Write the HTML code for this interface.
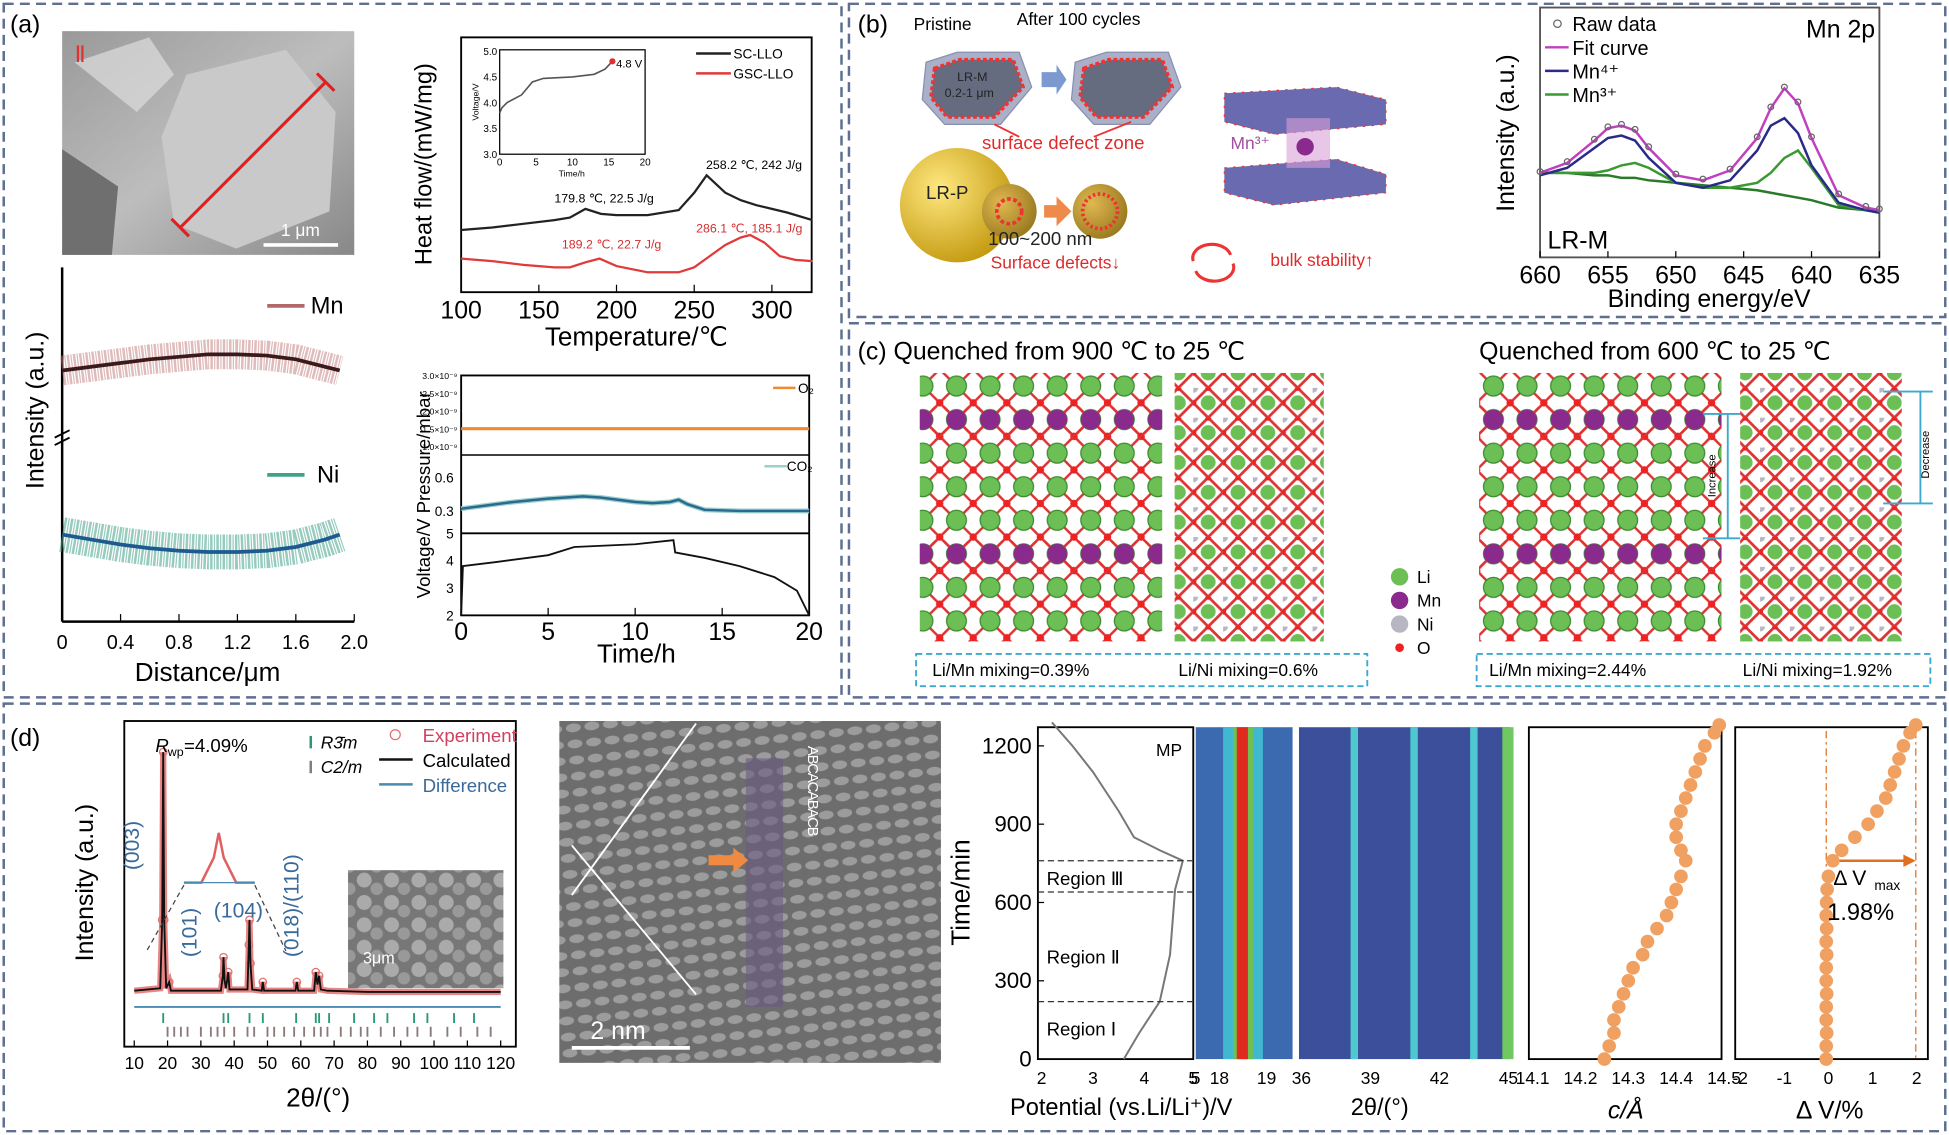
<!DOCTYPE html>
<html><head><meta charset="utf-8">
<style>
html,body{margin:0;padding:0;background:#fff;}
svg{display:block;font-family:"Liberation Sans",Arial,sans-serif;}
</style></head>
<body>
<svg id="fig" width="1949" height="1135" viewBox="0 0 1568 913" xmlns="http://www.w3.org/2000/svg">
<defs>
<pattern id="layered" width="27" height="27" patternUnits="userSpaceOnUse">
 <path d="M0 0 L27 27 M27 0 L0 27" stroke="#d33" stroke-width="2"/>
 <circle cx="13.5" cy="13.5" r="8" fill="#6bbf55" stroke="#3c8a30" stroke-width="1"/>
 <circle cx="0" cy="0" r="3" fill="#e22"/><circle cx="27" cy="0" r="3" fill="#e22"/>
 <circle cx="0" cy="27" r="3" fill="#e22"/><circle cx="27" cy="27" r="3" fill="#e22"/>
</pattern>
<pattern id="layeredMn" width="27" height="27" patternUnits="userSpaceOnUse">
 <path d="M0 0 L27 27 M27 0 L0 27" stroke="#d33" stroke-width="2"/>
 <circle cx="13.5" cy="13.5" r="8" fill="#8a2a8c"/>
 <circle cx="0" cy="0" r="3" fill="#e22"/><circle cx="27" cy="27" r="3" fill="#e22"/>
</pattern>
<pattern id="diamond" width="24" height="24" patternUnits="userSpaceOnUse">
 <path d="M0 12 L12 0 L24 12 L12 24 Z" stroke="#d33" stroke-width="2.2" fill="none"/>
 <circle cx="12" cy="12" r="6" fill="#6bbf55"/>
 <circle cx="0" cy="0" r="4" fill="#b9b6c4"/>
 <circle cx="12" cy="0" r="2.5" fill="#e22"/><circle cx="0" cy="12" r="2.5" fill="#e22"/>
</pattern>
<radialGradient id="ball" cx="0.35" cy="0.35" r="0.7"><stop offset="0" stop-color="#ffe880"/><stop offset="1" stop-color="#c49a10"/></radialGradient>
<radialGradient id="ball2" cx="0.35" cy="0.35" r="0.7"><stop offset="0" stop-color="#e0b850"/><stop offset="1" stop-color="#9a7a20"/></radialGradient>
<linearGradient id="sem" x1="0" y1="0" x2="1" y2="1"><stop offset="0" stop-color="#9a9a9a"/><stop offset="0.5" stop-color="#bdbdbd"/><stop offset="1" stop-color="#888"/></linearGradient>
<pattern id="tem" width="15" height="13" patternUnits="userSpaceOnUse" patternTransform="rotate(-6)">
 <rect width="15" height="13" fill="#6a6a6a"/><ellipse cx="7.5" cy="6.5" rx="6" ry="3.5" fill="#a8a8a8"/>
</pattern>
<pattern id="semgrain" width="22" height="18" patternUnits="userSpaceOnUse">
 <rect width="22" height="18" fill="#777"/><circle cx="7" cy="6" r="6" fill="#aaa"/><circle cx="17" cy="13" r="5" fill="#999"/>
</pattern>
</defs>

<g fill="none" stroke="#5e6f92" stroke-width="2" stroke-dasharray="8,5">
 <rect x="3" y="3" width="674" height="558"/>
 <rect x="683" y="3" width="882" height="252"/>
 <rect x="683" y="260" width="882" height="301"/>
 <rect x="3" y="566" width="1562" height="344"/>
</g>

<!-- ===== Panel a ===== -->
<text x="8" y="26" font-size="20">(a)</text>
<g>
 <rect x="50" y="25" width="235" height="180" fill="url(#sem)"/>
 <path d="M60 50 L120 30 L140 60 L110 90 Z" fill="#ddd" opacity="0.7"/>
 <path d="M150 60 L230 40 L270 90 L265 170 L190 200 L140 180 L130 110 Z" fill="#c9c9c9"/>
 <path d="M50 120 L95 150 L90 205 L50 205 Z" fill="#6f6f6f"/>
 <text x="60" y="50" fill="#e03030" font-size="18" font-family="Liberation Serif">Ⅱ</text>
 <line x1="145" y1="183" x2="262" y2="66" stroke="#e02020" stroke-width="2.5"/>
 <line x1="138" y1="176" x2="152" y2="190" stroke="#e02020" stroke-width="2.5"/>
 <line x1="255" y1="59" x2="269" y2="73" stroke="#e02020" stroke-width="2.5"/>
 <line x1="212" y1="197" x2="272" y2="197" stroke="#fff" stroke-width="3"/>
 <text x="226" y="190" fill="#fff" font-size="14">1 μm</text>
</g>
<g id="lineScan"></g>
<g id="heat"></g>
<g id="gas"></g>

<!-- ===== Panel b ===== -->
<text x="690" y="26" font-size="20">(b)</text>
<g>
 <text x="735" y="24" font-size="14">Pristine</text>
 <text x="818" y="20" font-size="14">After 100 cycles</text>
 <path d="M745 50 L770 42 L820 42 L830 70 L805 100 L760 100 L742 80 Z" fill="#a9b0c8" stroke="#8890b0"/>
 <path d="M752 55 L772 48 L815 48 L823 70 L800 94 L762 94 L749 78 Z" fill="#666c80" stroke="#e33" stroke-width="3" stroke-dasharray="3,2"/>
 <text x="770" y="65" font-size="10" fill="#222">LR-M</text>
 <text x="760" y="78" font-size="10" fill="#222">0.2-1 μm</text>
 <path d="M838 58 L850 58 L850 52 L858 64 L850 76 L850 70 L838 70 Z" fill="#7c9ad0"/>
 <path d="M865 50 L890 42 L940 42 L950 70 L925 100 L880 100 L862 80 Z" fill="#a9b0c8" stroke="#8890b0"/>
 <path d="M872 55 L892 48 L935 48 L943 70 L920 94 L882 94 L869 78 Z" fill="#666c80" stroke="#e33" stroke-width="3" stroke-dasharray="3,2"/>
 <text x="790" y="120" font-size="15" fill="#e02a2a">surface defect zone</text>
 <line x1="800" y1="100" x2="820" y2="110" stroke="#e33" stroke-width="1.5"/>
 <line x1="910" y1="98" x2="880" y2="110" stroke="#e33" stroke-width="1.5"/>
 <circle cx="770" cy="165" r="46" fill="url(#ball)"/>
 <text x="745" y="160" font-size="15" fill="#222">LR-P</text>
 <circle cx="812" cy="170" r="22" fill="url(#ball2)"/>
 <circle cx="812" cy="170" r="10" fill="none" stroke="#e33" stroke-width="3" stroke-dasharray="3,2"/>
 <path d="M840 165 L850 165 L850 158 L862 170 L850 182 L850 175 L840 175 Z" fill="#ef8a4a"/>
 <circle cx="885" cy="170" r="22" fill="url(#ball2)"/>
 <circle cx="885" cy="170" r="14" fill="none" stroke="#e33" stroke-width="3" stroke-dasharray="2,2"/>
 <text x="795" y="197" font-size="15" fill="#222">100~200 nm</text>
 <text x="797" y="216" font-size="14" fill="#e02a2a">Surface defects↓</text>
 <text x="1022" y="214" font-size="14" fill="#e02a2a">bulk stability↑</text>
 <path d="M960 210 A14 10 0 0 1 990 205" fill="none" stroke="#e33" stroke-width="2.5"/>
 <path d="M992 212 A14 10 0 0 1 962 218" fill="none" stroke="#e33" stroke-width="2.5"/>
 <path d="M985 75 L1075 70 L1115 80 L1115 100 L1025 108 L985 98 Z" fill="#6a6ab0" stroke="#e33" stroke-width="1" stroke-dasharray="2,5"/>
 <path d="M985 135 L1075 128 L1115 140 L1115 155 L1025 165 L985 155 Z" fill="#6a6ab0" stroke="#e33" stroke-width="1" stroke-dasharray="2,5"/>
 <rect x="1035" y="95" width="35" height="40" fill="#d8a0d8" opacity="0.6"/>
 <circle cx="1050" cy="118" r="7" fill="#8a2a8c"/>
 <text x="990" y="120" font-size="14" fill="#a050a0">Mn³⁺</text>
</g>
<g id="xps"></g>

<!-- ===== Panel c ===== -->
<text x="690" y="289" font-size="20">(c) Quenched from 900 ℃ to 25 ℃</text>
<text x="1190" y="289" font-size="20">Quenched from 600 ℃ to 25 ℃</text>
<g>
 <rect x="740" y="300" width="195" height="216" fill="url(#layered)"/>
 <rect x="740" y="327" width="195" height="27" fill="url(#layeredMn)"/>
 <rect x="740" y="435" width="195" height="27" fill="url(#layeredMn)"/>
 <rect x="945" y="300" width="120" height="216" fill="url(#diamond)"/>
 <rect x="1190" y="300" width="195" height="216" fill="url(#layered)"/>
 <rect x="1190" y="327" width="195" height="27" fill="url(#layeredMn)"/>
 <rect x="1190" y="435" width="195" height="27" fill="url(#layeredMn)"/>
 <rect x="1400" y="300" width="130" height="216" fill="url(#diamond)"/>
 <g stroke="#3aaad0" stroke-width="1.5">
  <line x1="1370" y1="333" x2="1400" y2="333"/><line x1="1370" y1="433" x2="1400" y2="433"/><line x1="1390" y1="333" x2="1390" y2="433"/>
  <line x1="1515" y1="315" x2="1555" y2="315"/><line x1="1515" y1="405" x2="1555" y2="405"/><line x1="1545" y1="315" x2="1545" y2="405"/>
 </g>
 <text x="1380" y="400" font-size="9" transform="rotate(-90 1380 400)">Increase</text>
 <text x="1552" y="385" font-size="9" transform="rotate(-90 1552 385)">Decrease</text>
</g>
<g font-size="14">
 <circle cx="1126" cy="464" r="7" fill="#6bbf55"/><text x="1140" y="469">Li</text>
 <circle cx="1126" cy="483" r="7" fill="#8a2a8c"/><text x="1140" y="488">Mn</text>
 <circle cx="1126" cy="502" r="7" fill="#b9b6c4"/><text x="1140" y="507">Ni</text>
 <circle cx="1126" cy="521" r="3.5" fill="#e22"/><text x="1140" y="526">O</text>
</g>
<g font-size="14">
 <rect x="737" y="526" width="363" height="26" fill="none" stroke="#3aaad0" stroke-width="1.5" stroke-dasharray="5,3"/>
 <text x="750" y="544">Li/Mn mixing=0.39%</text><text x="948" y="544">Li/Ni mixing=0.6%</text>
 <rect x="1188" y="526" width="365" height="26" fill="none" stroke="#3aaad0" stroke-width="1.5" stroke-dasharray="5,3"/>
 <text x="1198" y="544">Li/Mn mixing=2.44%</text><text x="1402" y="544">Li/Ni mixing=1.92%</text>
</g>

<!-- ===== Panel d ===== -->
<text x="8" y="600" font-size="20">(d)</text>
<g id="xrd"></g>
<g>
 <rect x="450" y="580" width="307" height="275" fill="url(#tem)"/>
 <rect x="450" y="580" width="307" height="275" fill="#777" opacity="0.25"/>
 <line x1="560" y1="582" x2="460" y2="720" stroke="#fff" stroke-width="1.5"/>
 <line x1="460" y1="680" x2="560" y2="800" stroke="#fff" stroke-width="1.5"/>
 <rect x="600" y="610" width="30" height="200" fill="#6a5a80" opacity="0.6"/>
 <path d="M570 688 L590 688 L590 682 L602 692 L590 702 L590 696 L570 696 Z" fill="#f08a40"/>
 <text x="650" y="600" font-size="12" fill="#fff" letter-spacing="-1" transform="rotate(90 650 600)">ABCACABACB</text>
 <line x1="460" y1="843" x2="555" y2="843" stroke="#fff" stroke-width="3"/>
 <text x="475" y="836" font-size="20" fill="#fff">2 nm</text>
</g>
<g id="insitu"></g>
</svg>

<script>
const NS='http://www.w3.org/2000/svg';
function el(tag,attrs,parent){const e=document.createElementNS(NS,tag);for(const k in attrs)e.setAttribute(k,attrs[k]);parent.appendChild(e);return e;}
function txt(s,attrs,parent){const e=el('text',attrs,parent);e.textContent=s;return e;}
function pathD(xs,ys,fx,fy){return xs.map((x,i)=>(i?'L':'M')+fx(x).toFixed(1)+' '+fy(ys[i]).toFixed(1)).join(' ');}

/* ---------- Data ---------- */
const scanDist=[0,0.2,0.4,0.6,0.8,1.0,1.2,1.4,1.6,1.8,1.9];
const scanMn=[202,205,208,211,213,215,215,214,211,205,202];
const scanNi=[70,66,62,59,57,56,56,57,60,66,70];
const scanTicks=['0','0.4','0.8','1.2','1.6','2.0'];
const heatT=[100,120,140,160,170,180,190,200,220,240,250,258,270,280,290,300,310,326];
const heatSC=[50,52,55,58,60,67,63,62,62,66,80,94,80,74,70,67,64,58];
const gscT=[100,120,140,160,170,180,189,200,220,240,250,260,270,280,286,295,305,315,326];
const heatGSC=[27,25,22,20,20,24,27,21,16,16,20,29,38,44,46,40,29,26,25];
const heatTicks=[100,150,200,250,300];
const insetT=[0,0.3,1,3,4.5,6,10,13,14.5,15.5];
const insetV=[3.8,3.9,4.0,4.15,4.4,4.47,4.5,4.55,4.65,4.8];
const gasT=[0,1,3,5,7,8,10,11,12,12.5,13,14,16,20];
const gasCO2=[0.32,0.34,0.38,0.41,0.43,0.42,0.38,0.37,0.38,0.40,0.36,0.31,0.30,0.30];
const gasO2=[1.5,1.5,1.5,1.5,1.5,1.5,1.5,1.5,1.5,1.5,1.5,1.5,1.5,1.5];
const cellT=[0,0.1,2,5,6.5,10,12.2,12.3,14,16,18,19.3,20];
const cellV=[2.0,3.8,3.95,4.2,4.5,4.6,4.75,4.3,4.1,3.8,3.4,2.9,2.0];
const gasTicks=[0,5,10,15,20];
const xpsBE=[660,658,656,655,654,653,652,650,648,646,644,643,642,641,640,638,636,635];
const xpsFit=[34,38,47,52,53,51,44,33,31,35,48,60,68,62,48,25,20,19];
const xpsMn4=[33,36,44,48,49,47,40,30,28,31,43,53,56,50,37,22,19,18];
const xpsMn3=[34,34,34,35,37,38,36,30,28,28,30,34,40,43,36,21,19,18];
const xpsBg=[34,34,33,33,32,32,31,30,29,28,27,26,25,24,23,20,19,18];
const xpsTicks=[660,655,650,645,640,635];
const xrdTT=[10,17.8,18.4,18.7,19.0,19.6,20.5,21,36,36.6,36.8,37.1,37.5,37.9,38.2,38.6,44,44.4,44.6,44.9,45.4,48.3,48.6,49,58.4,58.8,59.2,64,64.5,65.0,65.5,66,68,80,120];
const xrdI=[3,5,60,195,60,5,10,3,3,15,30,12,5,12,18,4,4,40,60,25,4,3,10,3,3,10,3,3,18,8,15,4,3,2,2];
const xrdTicks=[10,20,30,40,50,60,70,80,90,100,110,120];
const braggR=[18.7,36.8,38.2,44.6,48.6,58.6,64.5,65.5,68.5,76,82,86,94,98,106,112];
const braggC=[20,22,24,26,30,33,35,37,40,44,46,50,52,55,58,61,64,66,68,72,75,78,80,84,88,92,95,99,104,108,113,117];
const potTime=[0,100,220,400,650,760,800,850,950,1100,1200,1290];
const potV=[3.6,3.9,4.3,4.5,4.6,4.75,4.3,3.8,3.5,3.0,2.6,2.2];
const timeTicks=[0,300,600,900,1200];
const cTime=[0,50,100,150,200,250,300,350,400,450,500,550,600,650,700,760,800,850,900,950,1000,1050,1100,1150,1200,1250,1280];
const cVal=[14.25,14.26,14.27,14.27,14.28,14.29,14.30,14.31,14.33,14.34,14.36,14.38,14.39,14.40,14.41,14.42,14.41,14.40,14.40,14.41,14.42,14.43,14.44,14.45,14.46,14.48,14.49];
const dV=[-0.05,-0.05,-0.04,-0.05,-0.05,-0.04,-0.05,-0.05,-0.04,-0.05,-0.04,-0.05,-0.04,-0.03,0.0,0.1,0.3,0.6,0.9,1.1,1.3,1.4,1.5,1.6,1.7,1.85,1.98];
const stripes1=[18.5];
const stripes2=[38.3,40.9,43.5,44.9];

/* ---------- Line scan ---------- */
(function(){
 const g=document.getElementById('lineScan');
 const fx=d=>50+d*117.5, fy=v=>500-v;
 el('line',{x1:50,y1:215,x2:50,y2:500,stroke:'#000','stroke-width':2},g);
 el('line',{x1:50,y1:500,x2:285,y2:500,stroke:'#000','stroke-width':2},g);
 scanTicks.forEach((t,i)=>{const x=fx(i*0.4);
  const tk=el('line',{x1:x,y1:500,x2:x,y2:494,stroke:'#000'},g);
  
  
  const l=txt(t,{x:x,y:522,'font-size':16,'text-anchor':'middle'},g);
  
  });
 const mnBand=el('path',{d:pathD(scanDist,scanMn,fx,fy),fill:'none',stroke:'#c07878','stroke-width':24,opacity:0.5,'stroke-dasharray':'2,1,1,1'},g);
 
 
 const mnFit=el('path',{d:pathD(scanDist,scanMn,fx,fy),fill:'none',stroke:'#3a1a1a','stroke-width':3},g);
 
 
 const niBand=el('path',{d:pathD(scanDist,scanNi,fx,fy),fill:'none',stroke:'#40a088','stroke-width':28,opacity:0.55,'stroke-dasharray':'2,1,1,1'},g);
 
 
 const niFit=el('path',{d:pathD(scanDist,scanNi,fx,fy),fill:'none',stroke:'#1e5a90','stroke-width':3},g);
 
 
 el('line',{x1:215,y1:246,x2:245,y2:246,stroke:'#b06868','stroke-width':3},g);
 txt('Mn',{x:250,y:252,'font-size':19},g);
 el('line',{x1:215,y1:382,x2:245,y2:382,stroke:'#40a088','stroke-width':3},g);
 txt('Ni',{x:255,y:388,'font-size':19},g);
 el('path',{d:'M44 352 L56 346 M44 358 L56 352',stroke:'#000','stroke-width':1.5},g);
 txt('Intensity (a.u.)',{x:35,y:330,'font-size':20,'text-anchor':'middle',transform:'rotate(-90 35 330)'},g);
 txt('Distance/μm',{x:167,y:548,'font-size':21,'text-anchor':'middle'},g);
})();

/* ---------- DSC ---------- */
(function(){
 const g=document.getElementById('heat');
 const fx=t=>371+(t-100)*1.25, fy=v=>235-v;
 el('rect',{x:371,y:30,width:282,height:205,fill:'none',stroke:'#000','stroke-width':1.5},g);
 heatTicks.forEach(t=>{const x=fx(t);
  const tk=el('line',{x1:x,y1:235,x2:x,y2:229,stroke:'#000'},g);
  
  
  const l=txt(String(t),{x:x,y:256,'font-size':20,'text-anchor':'middle'},g);
  
  });
 const a=el('path',{d:pathD(heatT,heatSC,fx,fy),fill:'none',stroke:'#222','stroke-width':1.8},g);
 
 
 const b=el('path',{d:pathD(gscT,heatGSC,fx,fy),fill:'none',stroke:'#e03a3a','stroke-width':1.8},g);
 
 
 txt('179.8 ℃, 22.5 J/g',{x:446,y:163,'font-size':10},g);
 txt('258.2 ℃, 242 J/g',{x:568,y:136,'font-size':10},g);
 txt('189.2 ℃, 22.7 J/g',{x:452,y:200,'font-size':10,fill:'#d03030'},g);
 txt('286.1 ℃, 185.1 J/g',{x:560,y:187,'font-size':10,fill:'#d03030'},g);
 el('line',{x1:560,y1:43,x2:588,y2:43,stroke:'#222','stroke-width':2},g);
 txt('SC-LLO',{x:590,y:47,'font-size':11},g);
 el('line',{x1:560,y1:59,x2:588,y2:59,stroke:'#e03a3a','stroke-width':2},g);
 txt('GSC-LLO',{x:590,y:63,'font-size':11},g);
 txt('Heat flow/(mW/mg)',{x:347,y:132,'font-size':19,'text-anchor':'middle',transform:'rotate(-90 347 132)'},g);
 txt('Temperature/℃',{x:512,y:278,'font-size':21,'text-anchor':'middle'},g);
 const ix=t=>402+t*5.85, iy=v=>41+(5-v)*41.5;
 el('rect',{x:402,y:40,width:117,height:84,fill:'#fff',stroke:'#000'},g);
 [0,5,10,15,20].forEach(t=>txt(String(t),{x:ix(t),y:133,'font-size':8,'text-anchor':'middle'},g));
 [3.0,3.5,4.0,4.5,5.0].forEach(v=>txt(v.toFixed(1),{x:400,y:iy(v)+3,'font-size':8,'text-anchor':'end'},g));
 const ic=el('path',{d:pathD(insetT,insetV,ix,iy),fill:'none',stroke:'#555','stroke-width':1.3},g);
 
 
 el('circle',{cx:ix(15.5),cy:iy(4.8),r:2.5,fill:'#e03030'},g);
 txt('4.8 V',{x:ix(15.5)+3,y:iy(4.8)+5,'font-size':9},g);
 txt('Time/h',{x:460,y:142,'font-size':7,'text-anchor':'middle'},g);
 txt('Voltage/V',{x:385,y:82,'font-size':7,'text-anchor':'middle',transform:'rotate(-90 385 82)'},g);
})();

/* ---------- Gas ---------- */
(function(){
 const g=document.getElementById('gas');
 const fx=t=>371+t*14;
 const yO=v=>359-(v-1)*28.5, yC=v=>411-(v-0.3)*90, yV=v=>429+(5-v)*22;
 el('rect',{x:371,y:302,width:280,height:193,fill:'none',stroke:'#000','stroke-width':1.5},g);
 el('line',{x1:371,y1:366,x2:651,y2:366,stroke:'#000','stroke-width':1.2},g);
 el('line',{x1:371,y1:429,x2:651,y2:429,stroke:'#000','stroke-width':1.5},g);
 ['1.0×10⁻⁹','1.5×10⁻⁹','2.0×10⁻⁹','2.5×10⁻⁹','3.0×10⁻⁹'].forEach((s,i)=>txt(s,{x:368,y:yO(1+i*0.5)+3,'font-size':7,'text-anchor':'end'},g));
 [0.3,0.6].forEach(v=>txt(String(v),{x:365,y:yC(v)+4,'font-size':11,'text-anchor':'end'},g));
 [2,3,4,5].forEach(v=>txt(String(v),{x:365,y:yV(v)+4,'font-size':11,'text-anchor':'end'},g));
 gasTicks.forEach(t=>{const x=fx(t);
  const tk=el('line',{x1:x,y1:495,x2:x,y2:489,stroke:'#000'},g);
  
  
  const l=txt(String(t),{x:x,y:515,'font-size':20,'text-anchor':'middle'},g);
  
  });
 const o=el('path',{d:pathD(gasT,gasO2,fx,yO),fill:'none',stroke:'#f08a30','stroke-width':2.5},g);
 
 
 const cb=el('path',{d:pathD(gasT,gasCO2,fx,yC),fill:'none',stroke:'#9cd0cc','stroke-width':4},g);
 
 
 const c=el('path',{d:pathD(gasT,gasCO2,fx,yC),fill:'none',stroke:'#2a6a90','stroke-width':2},g);
 
 
 const v=el('path',{d:pathD(cellT,cellV,fx,yV),fill:'none',stroke:'#111','stroke-width':1.5},g);
 
 
 el('line',{x1:622,y1:312,x2:640,y2:312,stroke:'#f08a30','stroke-width':2},g);
 txt('O₂',{x:642,y:316,'font-size':11},g);
 el('line',{x1:615,y1:375,x2:633,y2:375,stroke:'#9cd0cc','stroke-width':2},g);
 txt('CO₂',{x:633,y:379,'font-size':11},g);
 txt('Voltage/V  Pressure/mbar',{x:346,y:398,'font-size':15,'text-anchor':'middle',transform:'rotate(-90 346 398)'},g);
 txt('Time/h',{x:512,y:533,'font-size':21,'text-anchor':'middle'},g);
})();

/* ---------- XPS ---------- */
(function(){
 const g=document.getElementById('xps');
 const fx=b=>1239+(660-b)*10.92, fy=v=>207-v*2;
 el('rect',{x:1239,y:6,width:273,height:201,fill:'none',stroke:'#555','stroke-width':1.5},g);
 xpsTicks.forEach(t=>{const x=fx(t);
  const tk=el('line',{x1:x,y1:207,x2:x,y2:202,stroke:'#000'},g);
  
  
  const l=txt(String(t),{x:x,y:228,'font-size':20,'text-anchor':'middle'},g);
  
  });
 const bg=el('path',{d:pathD(xpsBE,xpsBg,fx,fy),fill:'none',stroke:'#2a7a2a','stroke-width':2},g);
 
 
 const m3=el('path',{d:pathD(xpsBE,xpsMn3,fx,fy),fill:'none',stroke:'#3a9a30','stroke-width':2},g);
 
 
 const m4=el('path',{d:pathD(xpsBE,xpsMn4,fx,fy),fill:'none',stroke:'#2a2a8a','stroke-width':2},g);
 
 
 const f=el('path',{d:pathD(xpsBE,xpsFit,fx,fy),fill:'none',stroke:'#c040c0','stroke-width':2},g);
 
 
 xpsBE.forEach((b,i)=>{const p=el('circle',{cx:fx(b),cy:fy(xpsFit[i])-1,r:2.3,fill:'none',stroke:'#666'},g);
  
  });
 const L=[['Raw data','#666','o'],['Fit curve','#c040c0'],['Mn⁴⁺','#2a2a8a'],['Mn³⁺','#3a9a30']];
 L.forEach((e,i)=>{const y=19+i*19;
  if(e[2]) el('circle',{cx:1253,cy:y,r:3,fill:'none',stroke:e[1]},g); else el('line',{x1:1243,y1:y,x2:1262,y2:y,stroke:e[1],'stroke-width':2},g);
  txt(e[0],{x:1265,y:y+6,'font-size':16},g);});
 txt('Mn 2p',{x:1453,y:30,'font-size':20},g);
 txt('LR-M',{x:1245,y:200,'font-size':20},g);
 txt('Intensity (a.u.)',{x:1218,y:107,'font-size':20,'text-anchor':'middle',transform:'rotate(-90 1218 107)'},g);
 txt('Binding energy/eV',{x:1375,y:247,'font-size':20,'text-anchor':'middle'},g);
})();

/* ---------- XRD ---------- */
(function(){
 const g=document.getElementById('xrd');
 const fx=t=>108+(t-10)*2.68, fy=v=>800-v;
 el('rect',{x:100,y:580,width:315,height:262,fill:'none',stroke:'#000','stroke-width':1.5},g);
 xrdTicks.forEach(t=>{const x=fx(t);
  const tk=el('line',{x1:x,y1:842,x2:x,y2:837,stroke:'#000'},g);
  
  
  const l=txt(String(t),{x:x,y:860,'font-size':14,'text-anchor':'middle'},g);
  
  });
 const thick=el('path',{d:pathD(xrdTT,xrdI,fx,fy),fill:'none',stroke:'#e05050','stroke-width':5,opacity:0.7},g);
 
 
 xrdTT.forEach((t,i)=>{if(xrdI[i]>8){const p=el('circle',{cx:fx(t),cy:fy(xrdI[i]),r:3,fill:'none',stroke:'#e07070'},g);
  
  }});
 const calc=el('path',{d:pathD(xrdTT,xrdI,fx,fy),fill:'none',stroke:'#111','stroke-width':1.5},g);
 
 
 const diff=el('line',{x1:fx(10),y1:810,x2:fx(120),y2:810,stroke:'#4a8ab0','stroke-width':1.5},g);
 
 
 braggR.forEach(t=>{const a=el('line',{x1:fx(t),y1:815,x2:fx(t),y2:823,stroke:'#2a9a70','stroke-width':1.5},g);
  
  });
 braggC.forEach(t=>{const b=el('line',{x1:fx(t),y1:826,x2:fx(t),y2:834,stroke:'#8a7a7a','stroke-width':1.5},g);
  
  });
 txt('(003)',{x:112,y:700,'font-size':17,fill:'#3a6a9a',transform:'rotate(-90 112 700)'},g);
 txt('(101)',{x:158,y:770,'font-size':17,fill:'#3a6a9a',transform:'rotate(-90 158 770)'},g);
 txt('(104)',{x:172,y:738,'font-size':17,fill:'#3a6a9a'},g);
 txt('(018)/(110)',{x:240,y:770,'font-size':17,fill:'#3a6a9a',transform:'rotate(-90 240 770)'},g);
 el('path',{d:'M148 710 L162 710 L172 690 L176 670 L180 690 L190 710 L205 710',fill:'none',stroke:'#e06060','stroke-width':2},g);
 el('path',{d:'M148 710 L205 710',fill:'none',stroke:'#4a8ab0'},g);
 el('line',{x1:148,y1:712,x2:118,y2:765,stroke:'#444','stroke-dasharray':'4,3'},g);
 el('line',{x1:205,y1:712,x2:230,y2:765,stroke:'#444','stroke-dasharray':'4,3'},g);
 el('rect',{x:280,y:700,width:125,height:95,fill:'url(#semgrain)'},g);
 txt('3μm',{x:292,y:775,'font-size':13,fill:'#fff'},g);
 txt('R',{x:125,y:605,'font-size':15,'font-style':'italic'},g);
 txt('wp',{x:135,y:608,'font-size':10},g);
 txt('=4.09%',{x:148,y:605,'font-size':15},g);
 el('line',{x1:250,y1:592,x2:250,y2:602,stroke:'#2a9a70','stroke-width':2},g);
 txt('R3̄m',{x:258,y:602,'font-size':14,'font-style':'italic'},g);
 el('line',{x1:250,y1:612,x2:250,y2:622,stroke:'#8a7a7a','stroke-width':2},g);
 txt('C2/m',{x:258,y:622,'font-size':14,'font-style':'italic'},g);
 el('circle',{cx:318,cy:591,r:4,fill:'none',stroke:'#e07070'},g);
 txt('Experiment',{x:340,y:597,'font-size':15,fill:'#d04060'},g);
 el('line',{x1:305,y1:611,x2:332,y2:611,stroke:'#111','stroke-width':2},g);
 txt('Calculated',{x:340,y:617,'font-size':15},g);
 el('line',{x1:305,y1:631,x2:332,y2:631,stroke:'#4a8ab0','stroke-width':2},g);
 txt('Difference',{x:340,y:637,'font-size':15,fill:'#3a6a9a'},g);
 txt('Intensity (a.u.)',{x:75,y:710,'font-size':20,'text-anchor':'middle',transform:'rotate(-90 75 710)'},g);
 txt('2θ/(°)',{x:256,y:890,'font-size':21,'text-anchor':'middle'},g);
})();

/* ---------- In situ ---------- */
(function(){
 const g=document.getElementById('insitu');
 const fy=t=>852-t*0.21;
 const fp=v=>838+(v-2)*41.3;
 el('rect',{x:835,y:585,width:125,height:267,fill:'none',stroke:'#000','stroke-width':1.5},g);
 timeTicks.forEach(t=>{
  const tk=el('line',{x1:835,y1:fy(t),x2:840,y2:fy(t),stroke:'#000'},g);
  
  
  const l=txt(String(t),{x:830,y:fy(t)+6,'font-size':18,'text-anchor':'end'},g);
  
  });
 [2,3,4,5].forEach(v=>txt(String(v),{x:fp(v),y:872,'font-size':14,'text-anchor':'middle'},g));
 const pc=el('path',{d:pathD(potV,potTime,fp,fy),fill:'none',stroke:'#777','stroke-width':1.6},g);
 
 
 [760,640,220].forEach(t=>el('line',{x1:835,y1:fy(t),x2:960,y2:fy(t),stroke:'#333','stroke-dasharray':'5,3'},g));
 txt('MP',{x:930,y:608,'font-size':14},g);
 txt('Region Ⅲ',{x:842,y:712,'font-size':15},g);
 txt('Region Ⅱ',{x:842,y:775,'font-size':15},g);
 txt('Region Ⅰ',{x:842,y:833,'font-size':15},g);
 txt('Time/min',{x:780,y:718,'font-size':21,'text-anchor':'middle',transform:'rotate(-90 780 718)'},g);
 txt('Potential (vs.Li/Li⁺)/V',{x:902,y:897,'font-size':19,'text-anchor':'middle'},g);
 const h1x=t=>962+(t-17.5)*38, h2x=t=>1047+(t-36)*18.5;
 el('rect',{x:962,y:585,width:78,height:267,fill:'#3c6ab0'},g);
 el('rect',{x:1045,y:585,width:170,height:267,fill:'#3b4f9a'},g);
 stripes1.forEach(t=>{
  const s=el('rect',{x:h1x(t)-16,y:585,width:32,height:267,fill:'#40b8d0'},g);
  
  
  const s2=el('rect',{x:h1x(t)-8,y:585,width:16,height:267,fill:'#70c050'},g);
  
  
  const s3=el('rect',{x:h1x(t)-5,y:585,width:9,height:267,fill:'#e02a20'},g);
  
  });
 stripes2.forEach((t,i)=>{
  const s=el('rect',{x:h2x(t)-3,y:585,width:i==3?9:6,height:267,fill:i==3?'#70c860':'#50c8d0'},g);
  
  });
 el('rect',{x:1040,y:585,width:5,height:267,fill:'#fff'},g);
 [[18,'18'],[19,'19']].forEach(a=>txt(a[1],{x:h1x(a[0]),y:872,'font-size':14,'text-anchor':'middle'},g));
 [[36,'36'],[39,'39'],[42,'42'],[45,'45']].forEach(a=>txt(a[1],{x:h2x(a[0]),y:872,'font-size':14,'text-anchor':'middle'},g));
 txt('5',{x:960,y:872,'font-size':14,'text-anchor':'middle'},g);
 txt('2θ/(°)',{x:1110,y:897,'font-size':19,'text-anchor':'middle'},g);
 const fc=v=>1233+(v-14.1)*385;
 el('rect',{x:1230,y:585,width:155,height:267,fill:'none',stroke:'#000','stroke-width':1.5},g);
 [14.1,14.2,14.3,14.4,14.5].forEach(v=>txt(v.toFixed(1),{x:fc(v),y:872,'font-size':14,'text-anchor':'middle'},g));
 cTime.forEach((t,i)=>{const p=el('circle',{cx:fc(cVal[i]),cy:fy(t),r:5.5,fill:'#f0a060'},g);
  
  });
 txt('c/Å',{x:1308,y:900,'font-size':20,'text-anchor':'middle','font-style':'italic'},g);
 const fd=v=>1471+v*35.5;
 el('rect',{x:1396,y:585,width:155,height:267,fill:'none',stroke:'#000','stroke-width':1.5},g);
 [-2,-1,0,1,2].forEach(v=>txt(String(v),{x:fd(v),y:872,'font-size':14,'text-anchor':'middle'},g));
 el('line',{x1:fd(-0.05),y1:588,x2:fd(-0.05),y2:852,stroke:'#e07020','stroke-dasharray':'6,3,2,3'},g);
 el('line',{x1:fd(1.98),y1:588,x2:fd(1.98),y2:852,stroke:'#e07020','stroke-dasharray':'6,3,2,3'},g);
 el('line',{x1:fd(0),y1:fy(760),x2:fd(1.9),y2:fy(760),stroke:'#e07020','stroke-width':2},g);
 el('path',{d:`M${fd(1.98)} ${fy(760)} l-10 -5 l0 10 Z`,fill:'#e07020'},g);
 cTime.forEach((t,i)=>{const p=el('circle',{cx:fd(dV[i]),cy:fy(t),r:5.5,fill:'#f0a060'},g);
  
  });
 txt('Δ V',{x:1475,y:712,'font-size':17},g);
 txt('max',{x:1508,y:716,'font-size':11},g);
 txt('1.98%',{x:1470,y:740,'font-size':19},g);
 txt('Δ V/%',{x:1472,y:900,'font-size':20,'text-anchor':'middle'},g);
})();
</script>
</body></html>
